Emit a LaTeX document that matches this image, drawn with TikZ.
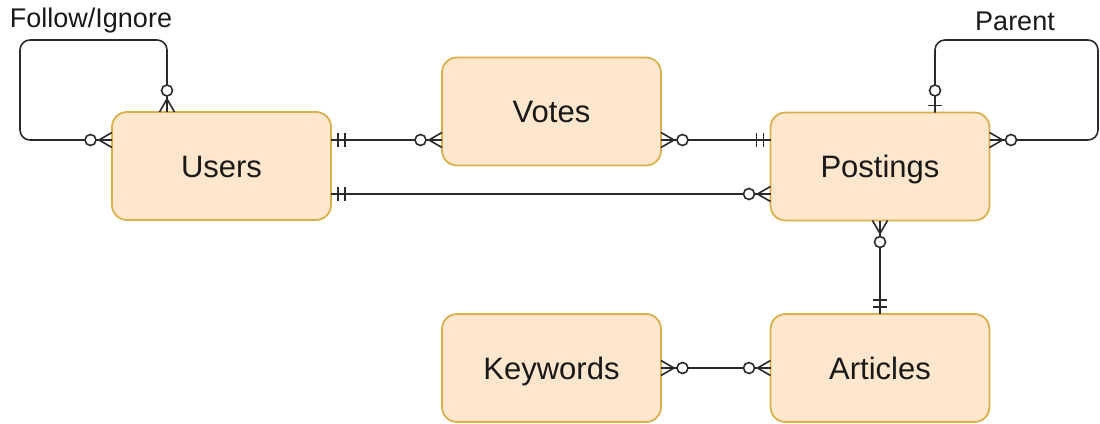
\documentclass[tikz,border=0pt]{standalone}
\usepackage{fontspec}
\setmainfont{Liberation Sans}
\definecolor{boxfill}{HTML}{FFE6CC}
\definecolor{boxline}{HTML}{DAB04C}
\definecolor{linec}{HTML}{2A2A2A}
\begin{document}
\begin{tikzpicture}[x=1pt,y=-1pt,
  entity/.style={draw=boxline, fill=boxfill, line width=1.8pt, rounded corners=15pt,
    minimum width=219pt, minimum height=108pt, outer sep=0pt, inner sep=0pt,
    text height=22pt, text depth=0pt,
    font=\fontsize{31}{37}\selectfont, text=black!90},
  er/.style={draw=linec, line width=1.6pt},
  lbl/.style={font=\fontsize{27}{32}\selectfont, text=black!90, inner sep=0pt},
  pics/zmany/.style={code={
    \draw[er] (0,7.5) -- (13,0) -- (0,-7.5);
    \draw[er, fill=white] (21.5,0) circle[radius=5.5pt];}},
  pics/mone/.style={code={
    \draw[er] (7,-7) -- (7,7) (14,-7) -- (14,7);}},
  pics/zone/.style={code={
    \draw[er] (7,-7) -- (7,7);
    \draw[er, fill=white] (22,0) circle[radius=5.5pt];}},
]
\useasboundingbox (0,0) rectangle (1100,423);

% entities
\node[entity] (users)    at (221.5,166)   {Users};
\node[entity] (votes)    at (551.5,111.5) {Votes};
\node[entity] (postings) at (880,166.5)   {Postings};
\node[entity] (keywords) at (551.5,368)   {Keywords};
\node[entity] (articles) at (880,368)     {Articles};

% relationship labels
\node[lbl] (follow) at (91,21)   {Follow/Ignore};
\node[lbl] (parent) at (1015,21) {Parent};

% relationships
\draw[er] ([yshift=26pt]users.east) coordinate (uv) -- (votes.west |- uv) coordinate (vu);
\draw[er] (votes.east |- uv) coordinate (vp) -- (postings.west |- uv) coordinate (pv);
\draw[er] ([yshift=-28pt]users.east) coordinate (up) -- (postings.west |- up) coordinate (pu);
\draw[er, rounded corners=10pt] (users.west |- uv) coordinate (ul)
  -| (20,40) -| ([xshift=-54.5pt]users.north) coordinate (ut);
\draw[er, rounded corners=10pt] ([xshift=55pt]postings.north) coordinate (pt)
  |- (1098,40) |- (postings.east |- uv) coordinate (pr);
\draw[er] (postings.south) -- (articles.north);
\draw[er] (keywords.east) -- (articles.west);

% cardinality marks
\pic at (uv) {mone};
\pic[rotate=180] at (vu) {zmany};
\pic at (vp) {zmany};
\pic[rotate=180] at (pv) {mone};
\pic at (up) {mone};
\pic[rotate=180] at (pu) {zmany};
\pic[rotate=180] at (ul) {zmany};
\pic[rotate=90] at (ut) {zmany};
\pic[rotate=90] at (pt) {zone};
\pic at (pr) {zmany};
\pic[rotate=-90] at (postings.south) {zmany};
\pic[rotate=90] at (articles.north) {mone};
\pic at (keywords.east) {zmany};
\pic[rotate=180] at (articles.west) {zmany};
\end{tikzpicture}
\end{document}
